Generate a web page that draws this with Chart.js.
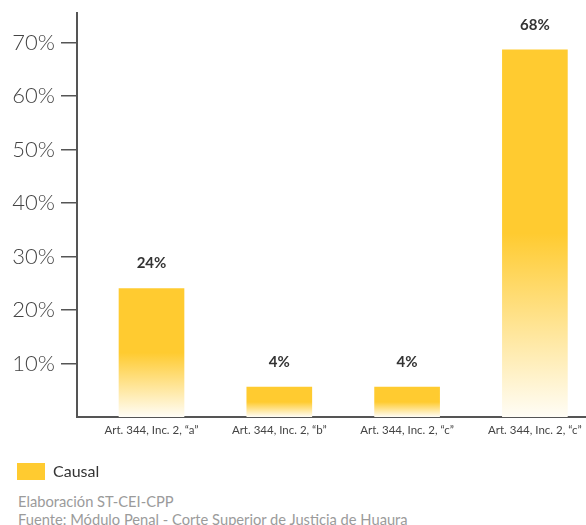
<!DOCTYPE html>
<html>
<head>
<meta charset="utf-8">
<script src="https://cdn.jsdelivr.net/npm/chart.js@4"></script>
<style>
  html, body { margin: 0; padding: 0; background: #fff; overflow: hidden; }
  #wrap { position: relative; width: 586px; height: 525px; overflow: hidden; }
  #chart { position: absolute; left: 0; top: 0; }
  .note { position: absolute; left: 18px; font: 14.7px Lato, sans-serif; color: #9b9b9b; white-space: nowrap; }
</style>
</head>
<body>
<div id="wrap">
  <canvas id="chart" width="640" height="492"></canvas>
  <div class="note" style="top:492px">Elaboración ST-CEI-CPP</div>
  <div class="note" style="top:510px">Fuente: Módulo Penal - Corte Superior de Justicia de Huaura</div>
</div>
<script>
// data (bar heights as drawn; labels as printed)
const categories = ['Art. 344, Inc. 2, “a”', 'Art. 344, Inc. 2, “b”', 'Art. 344, Inc. 2, “c”', 'Art. 344, Inc. 2, “c”'];
const values = [24, 5.6, 5.6, 68.6];
const valueLabels = ['24%', '4%', '4%', '68%'];
const yTicks = [10, 20, 30, 40, 50, 60, 70];
const seriesName = 'Causal';

const YELLOW = '#FFCB30';
const AXIS = '#555';
const FONT = 'Lato, "Open Sans", sans-serif';

// each bar: solid on top, fading to white toward the base
function barFill(c) {
  const y = c.chart.scales.y;
  if (c.type !== 'data' || !y) return YELLOW;
  const top = y.getPixelForValue(values[c.dataIndex]);
  const base = y.getPixelForValue(0);
  if (!isFinite(top) || !isFinite(base) || top === base) return YELLOW;
  const g = c.chart.ctx.createLinearGradient(0, top, 0, base);
  g.addColorStop(0, YELLOW);
  g.addColorStop(0.5, YELLOW);
  g.addColorStop(1, '#fffdf6');
  return g;
}

const valueTags = {
  id: 'valueTags',
  afterDatasetsDraw(chart) {
    const { ctx } = chart;
    const meta = chart.getDatasetMeta(0);
    ctx.save();
    ctx.font = 'bold 15px ' + FONT;
    ctx.fillStyle = '#333';
    ctx.textAlign = 'center';
    ctx.textBaseline = 'middle';
    meta.data.forEach((el, i) => ctx.fillText(valueLabels[i], el.x, el.y - 25));
    ctx.restore();
  }
};

new Chart(document.getElementById('chart'), {
  type: 'bar',
  data: {
    datasets: [{
      label: seriesName,
      data: values.map((v, i) => ({ x: i, y: v })),
      backgroundColor: barFill,
      borderWidth: 0,
      barThickness: 65
    }]
  },
  options: {
    responsive: false,
    animation: false,
    layout: { padding: { left: 7, top: 13, right: 20, bottom: 2 } },
    plugins: {
      tooltip: { enabled: false },
      legend: {
        position: 'bottom',
        align: 'start',
        labels: {
          boxWidth: 28,
          boxHeight: 17,
          padding: 10,
          color: '#333',
          font: { family: FONT, size: 16 },
          // plain swatch, not the per-bar gradient
          generateLabels: (chart) => Chart.defaults.plugins.legend.labels.generateLabels(chart)
            .map((l) => Object.assign(l, { fillStyle: YELLOW, strokeStyle: YELLOW, lineWidth: 0 }))
        }
      }
    },
    scales: {
      x: {
        type: 'linear',
        min: -0.583,
        max: 3.666,
        offset: false,
        afterFit: (s) => { s.height = 36; },
        grid: { display: true, drawOnChartArea: false, drawTicks: false, offset: false },
        border: { color: AXIS, width: 2 },
        afterBuildTicks: (s) => { s.ticks = categories.map((_, i) => ({ value: i })); },
        ticks: {
          padding: 6,
          maxRotation: 0,
          autoSkip: false,
          color: '#444',
          font: { family: FONT, size: 11.5 },
          callback: (v) => categories[v]
        }
      },
      y: {
        min: 0,
        max: 75.5,
        afterFit: (s) => { s.width = 70; s.paddingTop = 0; s.paddingBottom = 0; },
        afterBuildTicks: (s) => { s.ticks = yTicks.map((v) => ({ value: v })); },
        grid: { drawOnChartArea: false, tickLength: 16, color: AXIS, lineWidth: 1.5 },
        border: { color: AXIS, width: 2 },
        ticks: {
          padding: 6,
          color: '#444',
          font: { family: FONT, size: 22, weight: '300' },
          callback: (v) => v + '%'
        }
      }
    }
  },
  plugins: [valueTags]
});
</script>
</body>
</html>
